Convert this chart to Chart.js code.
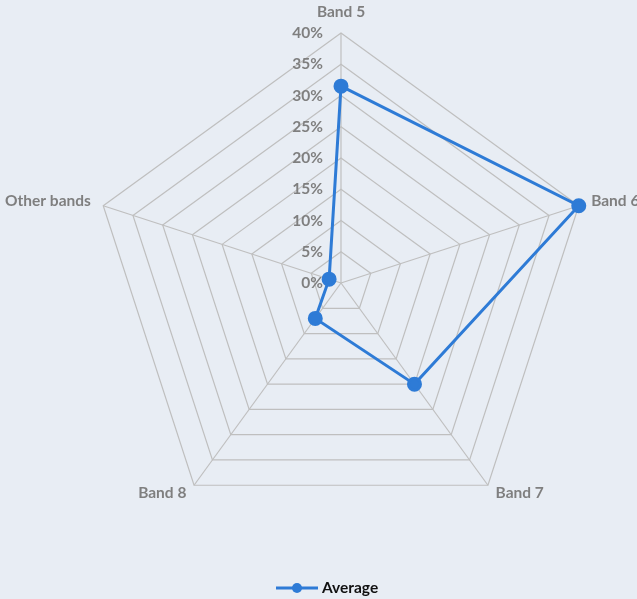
<!DOCTYPE html>
<html lang="en">
<head>
    <meta charset="UTF-8">
    <title>Average by band</title>
    <script src="https://cdn.jsdelivr.net/npm/chart.js"></script>
    <style>
        html, body { margin: 0; padding: 0; background: #e8edf4; }
        .wrap { width: 637px; height: 599px; }
    </style>
</head>
<body>
    <div class="wrap"><canvas id="radarChart" width="637" height="599"></canvas></div>

    <script>
        const bands = ['Band 5', 'Band 6', 'Band 7', 'Band 8', 'Other bands'];
        const averageValues = [31.5, 40, 20, 7, 2];
        const tickValues = [0, 5, 10, 15, 20, 25, 30, 35, 40];
        const seriesName = 'Average';

        const lineColor = '#2e7bd6';
        const gridColor = '#bfbfbf';
        const labelColor = '#7f7f7f';
        const labelFont = 'bold 15.5px Lato, "Open Sans", sans-serif';

        // tick labels, point labels and legend drawn by hand to sit like the original
        const labelsPlugin = {
            id: 'labelsPlugin',
            beforeDraw(chart) {
                const c = chart.ctx;
                c.save();
                c.fillStyle = '#e8edf4';
                c.fillRect(0, 0, chart.width, chart.height);
                c.restore();
            },
            afterDatasetsDraw(chart) {
                const c = chart.ctx;
                const r = chart.scales.r;
                c.save();
                c.font = labelFont;
                c.fillStyle = labelColor;

                // ticks
                c.textAlign = 'right';
                c.textBaseline = 'middle';
                tickValues.forEach(v => {
                    const y = r.yCenter - r.getDistanceFromCenterForValue(v);
                    c.fillText(v + '%', r.xCenter - 18, y);
                });

                // point labels
                bands.forEach((name, i) => {
                    const p = r.getPointPosition(i, r.drawingArea + 13);
                    const dx = p.x - r.xCenter;
                    const dy = p.y - r.yCenter;
                    c.textBaseline = 'middle';
                    if (Math.abs(dx) < 5) {
                        c.textAlign = 'center';
                        c.fillText(name, p.x, p.y - 8);
                    } else {
                        c.textAlign = dx > 0 ? 'left' : 'right';
                        c.fillText(name, p.x, dy < 0 ? p.y - 1 : p.y - 3);
                    }
                });

                // legend
                const ly = 588;
                c.strokeStyle = lineColor;
                c.lineWidth = 3;
                c.beginPath();
                c.moveTo(276, ly);
                c.lineTo(318, ly);
                c.stroke();
                c.fillStyle = lineColor;
                c.beginPath();
                c.arc(297, ly, 5, 0, Math.PI * 2);
                c.fill();
                c.fillStyle = '#111111';
                c.textAlign = 'left';
                c.textBaseline = 'middle';
                c.fillText(seriesName, 322, ly);
                c.restore();
            }
        };

        new Chart(document.getElementById('radarChart'), {
            type: 'radar',
            data: {
                labels: bands,
                datasets: [{
                    label: seriesName,
                    data: averageValues,
                    borderColor: lineColor,
                    backgroundColor: lineColor,
                    borderWidth: 3,
                    pointRadius: 6,
                    pointHoverRadius: 6,
                    fill: false
                }]
            },
            options: {
                responsive: false,
                animation: false,
                devicePixelRatio: 1,
                layout: { padding: { left: 91, right: 46, top: 33, bottom: 66 } },
                plugins: {
                    legend: { display: false },
                    tooltip: { enabled: false }
                },
                scales: {
                    r: {
                        min: 0,
                        max: 40,
                        ticks: { display: false, stepSize: 5 },
                        grid: { color: gridColor, lineWidth: 1.2 },
                        angleLines: { color: gridColor, lineWidth: 1.2 },
                        pointLabels: { display: false }
                    }
                }
            },
            plugins: [labelsPlugin]
        });
    </script>
</body>
</html>
